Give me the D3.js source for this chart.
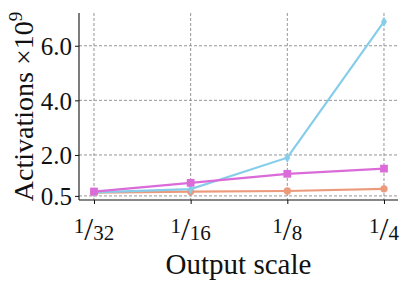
<!DOCTYPE html>
<html>
<head>
<meta charset="utf-8">
<script src="https://cdn.jsdelivr.net/npm/d3@7"></script>
<style>
  body { margin: 0; background: white; }
  text { font-family: "Liberation Serif", "DejaVu Serif", serif; fill: #111; }
</style>
</head>
<body>
<div id="chart"></div>
<script>
// output scales (denominators of 1/n)
const scales = [32, 16, 8, 4];
const yTicks = [0.5, 2.0, 4.0, 6.0];

// activations x10^9 per series
const pinkValues = [0.66, 0.98, 1.31, 1.50];
const cyanValues = [0.63, 0.75, 1.90, 6.88];
const orangeValues = [0.62, 0.66, 0.68, 0.76];

const width = 411;
const height = 286;
const margin = { top: 13, right: 13, bottom: 86, left: 79 };

const svg = d3.select('#chart')
  .append('svg')
  .attr('width', width)
  .attr('height', height);

const xScale = d3.scaleLinear([-0.155, 3.145], [margin.left, width - margin.right]);
const yScale = d3.scaleLinear([0.35, 7.2], [height - margin.bottom, margin.top]);

// grid
const grid = svg.append('g')
  .attr('stroke', '#8a8a8a')
  .attr('stroke-width', 0.9)
  .attr('stroke-dasharray', '3,2');

grid.selectAll('.gx')
  .data(scales)
  .enter().append('line')
  .attr('x1', (d, i) => xScale(i))
  .attr('x2', (d, i) => xScale(i))
  .attr('y1', margin.top)
  .attr('y2', height - margin.bottom);

grid.selectAll('.gy')
  .data(yTicks)
  .enter().append('line')
  .attr('x1', margin.left)
  .attr('x2', width - margin.right)
  .attr('y1', d => yScale(d))
  .attr('y2', d => yScale(d));

// series
const series = [
  { values: orangeValues, color: '#EC9A7C', marker: 'circle' },
  { values: cyanValues, color: '#86CDEA', marker: 'diamond' },
  { values: pinkValues, color: '#DB6BD8', marker: 'square' }
];

const line = d3.line()
  .x((d, i) => xScale(i))
  .y(d => yScale(d));

series.forEach(s => {
  svg.append('path')
    .datum(s.values)
    .attr('fill', 'none')
    .attr('stroke', s.color)
    .attr('stroke-width', 2.2)
    .attr('d', line);

  let sym;
  if (s.marker === 'circle') sym = d3.symbol(d3.symbolCircle, 42);
  else if (s.marker === 'square') sym = d3.symbol(d3.symbolSquare, 60);
  else sym = d3.symbol(d3.symbolDiamond, 30);

  svg.selectAll(null)
    .data(s.values)
    .enter().append('path')
    .attr('transform', (d, i) => `translate(${xScale(i)},${yScale(d)})`)
    .attr('d', sym)
    .attr('fill', s.color);
});

// axes
const yAxis = d3.axisLeft(yScale)
  .tickValues(yTicks)
  .tickFormat(d3.format('.1f'))
  .tickSize(4)
  .tickPadding(3);

const gY = svg.append('g')
  .attr('transform', `translate(${margin.left},0)`)
  .call(yAxis);
gY.select('.domain').attr('stroke', '#111').attr('stroke-width', 1.1).attr('d', `M0,${margin.top}V${height - margin.bottom}`);
gY.selectAll('.tick line').attr('stroke', '#111');
gY.selectAll('.tick text')
  .style('font-family', '"Liberation Serif", serif')
  .style('font-size', '25px')
  .attr('dy', '0.35em')
  .attr('fill', '#111');

const xAxis = d3.axisBottom(xScale)
  .tickValues(d3.range(scales.length))
  .tickFormat('')
  .tickSize(4);

const gX = svg.append('g')
  .attr('transform', `translate(0,${height - margin.bottom})`)
  .call(xAxis);
gX.select('.domain').attr('stroke', '#111').attr('stroke-width', 1.1).attr('d', `M${margin.left},0H${width - margin.right}`);
gX.selectAll('.tick line').attr('stroke', '#111');

// fraction labels 1/n
const frac = gX.selectAll('.frac')
  .data(scales)
  .enter().append('text')
  .attr('class', 'frac')
  .attr('x', (d, i) => xScale(i))
  .attr('y', 40)
  .attr('text-anchor', 'middle');

frac.append('tspan').attr('dy', -7).style('font-size', '21px').text('1');
frac.append('tspan').attr('dy', 7).style('font-size', '32px').text('/');
frac.append('tspan').attr('dy', 0).style('font-size', '21px').text(d => d);

// axis titles
svg.append('text')
  .attr('x', (margin.left + width - margin.right) / 2)
  .attr('y', 274)
  .attr('text-anchor', 'middle')
  .style('font-size', '29px')
  .text('Output scale');

const yl = svg.append('text')
  .attr('transform', `translate(33,${(margin.top + height - margin.bottom) / 2}) rotate(-90)`)
  .attr('text-anchor', 'middle')
  .style('font-size', '28px');
yl.append('tspan').text('Activations ×10');
yl.append('tspan').attr('dy', -11).style('font-size', '19px').text('9');
</script>
</body>
</html>
